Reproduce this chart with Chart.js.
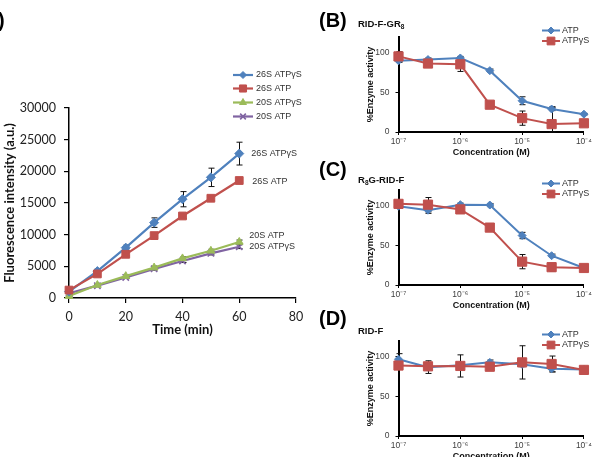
<!DOCTYPE html>
<html><head><meta charset="utf-8">
<script src="https://cdn.jsdelivr.net/npm/chart.js@4.4.1/dist/chart.umd.min.js"></script>
<style>
html,body{margin:0;padding:0;background:#fff}
body{width:594px;height:457px;overflow:hidden;position:relative;font-family:"Liberation Sans",Arial,sans-serif}
canvas{position:absolute;display:block}
.t{position:absolute;white-space:nowrap;color:#000;font-weight:bold}
.pl{font-size:20px;line-height:24px}
.st{font-size:9.5px;line-height:12px;color:#111}
.st sub{font-size:6.5px;vertical-align:-2px;line-height:0}
</style></head><body>
<canvas id="cA" width="330" height="345" style="left:0;top:0"></canvas>
<canvas id="cB" width="264" height="162" style="left:330px;top:0"></canvas>
<canvas id="cC" width="264" height="162" style="left:330px;top:153px"></canvas>
<canvas id="cD" width="264" height="162" style="left:330px;top:304px"></canvas>
<div class="t pl" style="left:-23px;top:8px">(A)</div>
<div class="t pl" style="left:319px;top:8px">(B)</div>
<div class="t pl" style="left:319px;top:157px">(C)</div>
<div class="t pl" style="left:319px;top:306px">(D)</div>
<div class="t st" style="left:358px;top:18px">RID-F-GR<sub>8</sub></div>
<div class="t st" style="left:358px;top:174px">R<sub>8</sub>G-RID-F</div>
<div class="t st" style="left:358px;top:325px">RID-F</div>
<script>
// ---------- Panel A data ----------
const timeMin = [0, 10, 20, 30, 40, 50, 60];
const timeTicks = [0, 20, 40, 60, 80];
const fluorTicks = [0, 5000, 10000, 15000, 20000, 25000, 30000];
const s26ATPgS = [1000, 4250, 7950, 11900, 15600, 19050, 22800];
const s26ATPgSErr = [150, 300, 400, 750, 1200, 1450, 1800];
const s26ATP = [1250, 3800, 6900, 9850, 12950, 15750, 18550];
const s26ATPErr = [150, 200, 250, 300, 400, 350, 400];
const s20ATPgS = [300, 2050, 3450, 4800, 6250, 7450, 8850];
const s20ATPgSErr = [100, 150, 150, 200, 250, 250, 300];
const s20ATP = [750, 1950, 3250, 4600, 5850, 7050, 8100];
const s20ATPErr = [100, 150, 150, 200, 250, 250, 300];
const seriesNamesA = ['26S ATPγS', '26S ATP', '20S ATPγS', '20S ATP'];
const endLabelsA = ['26S ATPγS', '26S ATP', '20S ATP', '20S ATPγS'];

// ---------- Panels B-D data ----------
const concM = [1e-7, 3e-7, 1e-6, 3e-6, 1e-5, 3e-5, 1e-4];
const concTickValues = [1e-7, 1e-6, 1e-5, 1e-4];
const concTickLabels = ['10⁻⁷', '10⁻⁶', '10⁻⁵', '10⁻⁴'];
const pctTicks = [0, 50, 100];
const seriesNamesBD = ['ATP', 'ATPγS'];

const bATP = [90, 91.5, 93.5, 77.5, 39.5, 29, 22.5];
const bATPErr = [2, 2, 2, 2, 5, 2, 1];
const bATPgS = [95.5, 86.5, 85.5, 34.5, 17.5, 10, 11];
const bATPgSErr = [6, 3, 9, 2, 9, 22, 1];

const cATP = [99.5, 94.5, 101.5, 101, 62.5, 37, 21.5];
const cATPErr = [2, 4, 2, 2, 4, 2, 2];
const cATPgS = [102.5, 101.5, 95.5, 72.5, 29.5, 22.5, 21.5];
const cATPgSErr = [3, 9, 3, 2, 9, 5, 2];

const dATP = [97, 87, 89.5, 93, 90.5, 85, 84];
const dATPErr = [7, 8, 3, 3, 3, 4, 3];
const dATPgS = [89, 88, 88.5, 87.5, 93, 91, 83.5];
const dATPgSErr = [3, 3, 14, 3, 21, 10, 3];

// ---------- styles ----------
const BLUE = '#4F81BD', RED = '#C0504D', GREEN = '#9BBB59', PURPLE = '#8064A2';
const ARIAL = '"Liberation Sans", Arial, sans-serif';
const LATO = 'Lato, "Open Sans", sans-serif';

const errPlugin = {
  id: 'errBars',
  beforeDatasetsDraw(chart, args, opts) {
    const ctx = chart.ctx, ys = chart.scales.y;
    ctx.save();
    ctx.strokeStyle = opts.color; ctx.lineWidth = opts.lineWidth;
    chart.data.datasets.forEach((ds, di) => {
      if (!ds.errors) return;
      const meta = chart.getDatasetMeta(di);
      meta.data.forEach((pt, i) => {
        const e = ds.errors[i]; if (!e) return;
        const v = ds.data[i].y;
        const hi = ys.getPixelForValue(Math.min(v + e, ys.max));
        const lo = ys.getPixelForValue(Math.max(v - e, ys.min));
        const x = Math.round(pt.x) + 0.5, c = opts.cap;
        ctx.beginPath();
        ctx.moveTo(x, hi); ctx.lineTo(x, lo);
        ctx.moveTo(x - c, hi); ctx.lineTo(x + c, hi);
        ctx.moveTo(x - c, lo); ctx.lineTo(x + c, lo);
        ctx.stroke();
      });
    });
    ctx.restore();
  }
};

const legendPlugin = {
  id: 'sideLegend',
  afterDraw(chart, args, opts) {
    if (!opts.items) return;
    const ctx = chart.ctx;
    ctx.save();
    ctx.font = opts.font; ctx.textBaseline = 'middle'; ctx.textAlign = 'left';
    opts.items.forEach((it, k) => {
      const ds = chart.data.datasets[it.dataset];
      const y = opts.anchorTop ? chart.chartArea.top + opts.ys[k] : opts.ys[k];
      ctx.strokeStyle = ds.borderColor; ctx.lineWidth = ds.borderWidth;
      ctx.beginPath(); ctx.moveTo(opts.x0, y); ctx.lineTo(opts.x1, y); ctx.stroke();
      ctx.fillStyle = ds.pointBackgroundColor; ctx.strokeStyle = ds.pointBorderColor;
      ctx.lineWidth = ds.pointBorderWidth;
      Chart.helpers.drawPoint(ctx, {pointStyle: ds.pointStyle, radius: it.radius, borderWidth: ds.pointBorderWidth, rotation: 0}, (opts.x0 + opts.x1) / 2, y);
      ctx.fillStyle = opts.color;
      ctx.fillText(it.text, opts.tx, y);
    });
    ctx.restore();
  }
};

const endLabelPlugin = {
  id: 'endLabels',
  afterDatasetsDraw(chart, args, opts) {
    if (!opts.items) return;
    const ctx = chart.ctx;
    ctx.save();
    ctx.font = opts.font; ctx.fillStyle = opts.color;
    ctx.textBaseline = 'middle'; ctx.textAlign = 'left';
    opts.items.forEach(it => {
      const meta = chart.getDatasetMeta(it.dataset);
      const pt = meta.data[meta.data.length - 1];
      ctx.fillText(it.text, pt.x + it.dx, pt.y + it.dy);
    });
    ctx.restore();
  }
};

function xy(xs, ys) { return xs.map((x, i) => ({x: x, y: ys[i]})); }

function lineDS(label, xs, ys, errs, color, style, radius, order, lw, pbw) {
  return {
    label: label, data: xy(xs, ys), errors: errs,
    borderColor: color, backgroundColor: color, borderWidth: lw,
    pointStyle: style, pointRadius: radius, pointHoverRadius: radius,
    pointBackgroundColor: color, pointBorderColor: color, pointBorderWidth: pbw,
    tension: 0, fill: false, order: order, clip: false
  };
}

// ---------- Panel A ----------
new Chart(document.getElementById('cA'), {
  type: 'line',
  data: {
    datasets: [
      lineDS(seriesNamesA[0], timeMin, s26ATPgS, s26ATPgSErr, BLUE, 'rectRot', 4.5, 1, 2.2, 1),
      lineDS(seriesNamesA[1], timeMin, s26ATP, s26ATPErr, RED, 'rect', 5.5, 0, 2.2, 1),
      lineDS(seriesNamesA[2], timeMin, s20ATPgS, s20ATPgSErr, GREEN, 'triangle', 4.5, 2, 2.2, 1),
      lineDS(seriesNamesA[3], timeMin, s20ATP, s20ATPErr, PURPLE, 'crossRot', 4.5, 3, 2.2, 1.6)
    ]
  },
  plugins: [errPlugin, legendPlugin, endLabelPlugin],
  options: {
    responsive: false, animation: false, devicePixelRatio: 1, events: [],
    layout: {padding: {left: 0, top: 108, right: 34, bottom: 7}},
    plugins: {
      legend: {display: false}, tooltip: {enabled: false},
      errBars: {color: '#111', lineWidth: 1, cap: 3},
      sideLegend: {
        font: '9px ' + ARIAL, color: '#333', x0: 233, x1: 253, tx: 256,
        ys: [75, 88.5, 102.5, 116.5], anchorTop: false,
        items: [
          {dataset: 0, text: seriesNamesA[0], radius: 3.5},
          {dataset: 1, text: seriesNamesA[1], radius: 5},
          {dataset: 2, text: seriesNamesA[2], radius: 4},
          {dataset: 3, text: seriesNamesA[3], radius: 4}
        ]
      },
      endLabels: {
        font: '9px ' + ARIAL, color: '#333',
        items: [
          {dataset: 0, text: endLabelsA[0], dx: 12, dy: 0},
          {dataset: 1, text: endLabelsA[1], dx: 13, dy: 1},
          {dataset: 2, text: endLabelsA[2], dx: 10, dy: -6},
          {dataset: 3, text: endLabelsA[3], dx: 10, dy: 0}
        ]
      }
    },
    scales: {
      x: {
        type: 'linear', min: 0, max: 80,
        afterBuildTicks: s => { s.ticks = timeTicks.map(v => ({value: v})); },
        ticks: {callback: v => String(v), font: {family: LATO, size: 12.5}, color: '#222', padding: 6, maxRotation: 0, autoSkip: false},
        grid: {display: true, drawOnChartArea: false, drawTicks: true, tickLength: 5, color: '#000', lineWidth: 1.2},
        border: {display: true, color: '#000', width: 1.5},
        title: {display: true, text: 'Time (min)', font: {family: LATO, size: 13, weight: 'bold'}, color: '#111', padding: {top: 0, bottom: 0}},
        afterFit: s => { s.height = 40; }
      },
      y: {
        min: 0, max: 30000,
        afterBuildTicks: s => { s.ticks = fluorTicks.map(v => ({value: v})); },
        ticks: {callback: v => String(v), font: {family: LATO, size: 12.5}, color: '#222', padding: 8},
        grid: {display: true, drawOnChartArea: false, drawTicks: true, tickLength: 5, color: '#000', lineWidth: 1.2},
        border: {display: true, color: '#000', width: 1.5},
        title: {display: true, text: 'Fluorescence intensity (a.u.)', font: {family: LATO, size: 13, weight: 'bold'}, color: '#111', padding: {top: 2, bottom: 0}},
        afterFit: s => { s.width = 69; }
      }
    }
  }
});

// ---------- Panels B-D ----------
function pctPanel(id, atp, atpErr, gs, gsErr) {
  new Chart(document.getElementById(id), {
    type: 'line',
    data: {
      datasets: [
        lineDS(seriesNamesBD[0], concM, atp, atpErr, BLUE, 'rectRot', 4, 1, 2, 1),
        lineDS(seriesNamesBD[1], concM, gs, gsErr, RED, 'rect', 6.5, 0, 2, 1)
      ]
    },
    plugins: [errPlugin, legendPlugin],
    options: {
      responsive: false, animation: false, devicePixelRatio: 1, events: [],
      layout: {padding: {left: 33.5, top: 37, right: 9, bottom: 4}},
      plugins: {
        legend: {display: false}, tooltip: {enabled: false},
        errBars: {color: '#111', lineWidth: 1, cap: 3},
        sideLegend: {
          font: '9px ' + ARIAL, color: '#333', x0: 212, x1: 230, tx: 232,
          ys: [-6.5, 4], anchorTop: true,
          items: [
            {dataset: 0, text: seriesNamesBD[0], radius: 3.5},
            {dataset: 1, text: seriesNamesBD[1], radius: 5.5}
          ]
        }
      },
      scales: {
        x: {
          type: 'logarithmic', min: 1e-7, max: 1e-4,
          afterBuildTicks: s => { s.ticks = concTickValues.map(v => ({value: v})); },
          ticks: {
            callback: (v) => concTickLabels[concTickValues.findIndex(t => Math.abs(t - v) / t < 1e-6)],
            font: {family: ARIAL, size: 8.5}, color: '#404040', padding: 2, maxRotation: 0, autoSkip: false
          },
          grid: {display: true, drawOnChartArea: false, drawTicks: true, tickLength: 3, color: '#000', lineWidth: 1},
          border: {display: true, color: '#000', width: 2},
          title: {display: true, text: 'Concentration (M)', font: {family: ARIAL, size: 9, weight: 'bold'}, color: '#111', padding: {top: 0, bottom: 0}},
          afterFit: s => { s.height = 26; }
        },
        y: {
          min: 0, max: 120,
          afterBuildTicks: s => { s.ticks = pctTicks.map(v => ({value: v})); },
          ticks: {font: {family: ARIAL, size: 8.5}, color: '#404040', padding: 6},
          grid: {display: true, drawOnChartArea: false, drawTicks: true, tickLength: 3, color: '#000', lineWidth: 1},
          border: {display: true, color: '#000', width: 2},
          title: {display: true, text: '%Enzyme activity', font: {family: ARIAL, size: 9, weight: 'bold'}, color: '#111', padding: {top: 2, bottom: 0}},
          afterFit: s => { s.width = 35; }
        }
      }
    }
  });
}
pctPanel('cB', bATP, bATPErr, bATPgS, bATPgSErr);
pctPanel('cC', cATP, cATPErr, cATPgS, cATPgSErr);
pctPanel('cD', dATP, dATPErr, dATPgS, dATPgSErr);
</script>
</body></html>
